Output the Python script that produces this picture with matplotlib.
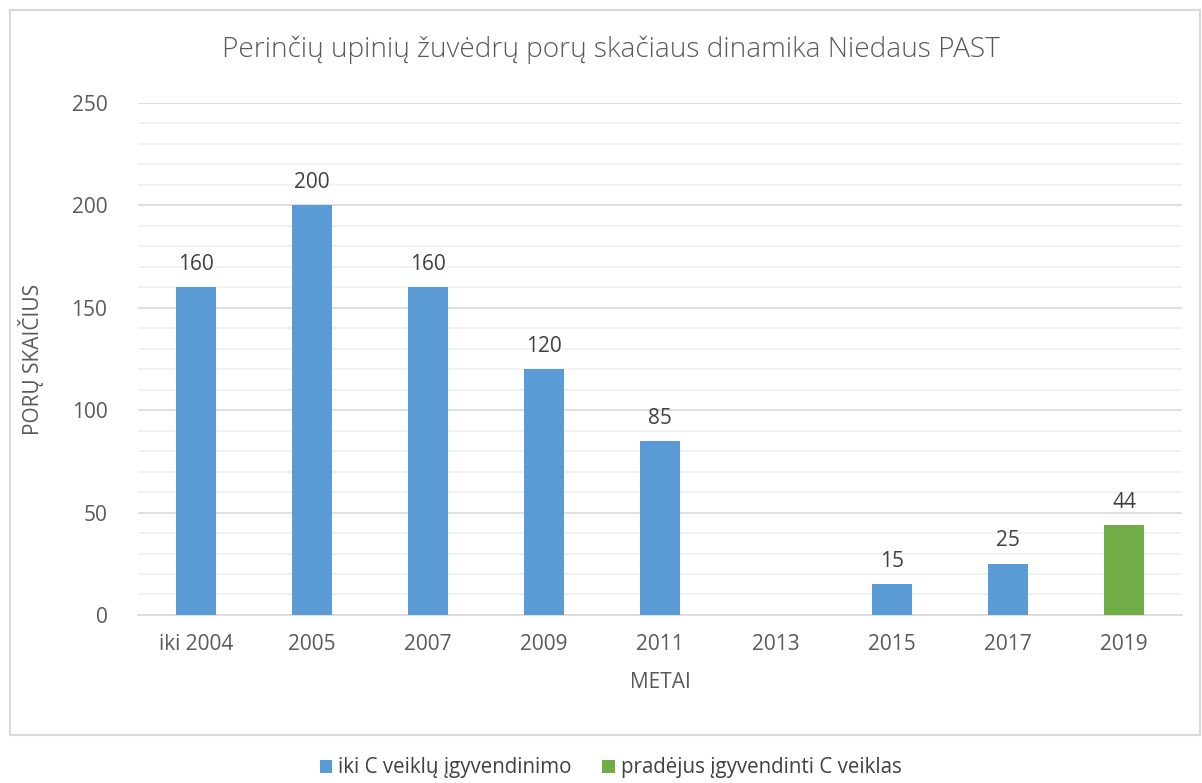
import numpy as np
from matplotlib import pyplot as plt
from matplotlib.patches import Rectangle

years = ["iki 2004", "2005", "2007", "2009", "2011", "2013", "2015", "2017", "2019"]
before = [160, 200, 160, 120, 85, np.nan, 15, 25, np.nan]
after = [np.nan, np.nan, np.nan, np.nan, np.nan, np.nan, np.nan, np.nan, 44]

plt.rcParams['font.family'] = ['Open Sans', 'DejaVu Sans']
txt = "#595959"

fig = plt.figure(figsize=(12.02, 7.83), dpi=100)
ax = fig.add_axes([0.1148, 0.2146, 0.8686, 0.6539])

# outer chart frame
fig.patches.append(Rectangle((10/1202, 1-735/783), 1190/1202, 725/783,
                             transform=fig.transFigure, fill=False,
                             edgecolor="#d9d9d9", linewidth=1.5))

x = np.arange(len(years))
b1 = ax.bar(x, before, width=0.34, color="#5b9bd5", label="iki C veiklų įgyvendinimo", zorder=3)
b2 = ax.bar(x, after, width=0.34, color="#70ad47", label="pradėjus įgyvendinti C veiklas", zorder=3)

for xi, v in zip(x, before):
    if not np.isnan(v):
        ax.text(xi, v + 6, str(int(v)), ha="center", va="bottom", fontsize=15, color="#404040")
for xi, v in zip(x, after):
    if not np.isnan(v):
        ax.text(xi, v + 6, str(int(v)), ha="center", va="bottom", fontsize=15, color="#404040")

ax.set_xlim(-0.5, len(years) - 0.5)
ax.set_ylim(0, 250)
ax.set_yticks(range(0, 251, 50))
ax.set_yticks(range(0, 251, 10), minor=True)
ax.grid(axis="y", which="major", color="#d9d9d9", linewidth=1.2, zorder=0)
ax.grid(axis="y", which="minor", color="#f0f0f0", linewidth=1.2, zorder=0)
ax.set_xticks(x)
ax.set_xticklabels(years)
ax.tick_params(axis="both", which="both", length=0, labelsize=15, colors=txt)
ax.tick_params(axis="x", pad=14)
ax.tick_params(axis="y", pad=22)
for s in ["top", "right", "left"]:
    ax.spines[s].set_visible(False)
ax.spines["bottom"].set_color("#d9d9d9")
ax.spines["bottom"].set_linewidth(1.2)

ax.set_xlabel("METAI", fontsize=15, color=txt, labelpad=12)
ax.set_ylabel("PORŲ SKAIČIUS", fontsize=15, color=txt, labelpad=20)
fig.text(0.508, 1 - 50/783, "Perinčių upinių žuvėdrų porų skačiaus dinamika Niedaus PAST",
         ha="center", va="center", fontsize=20.2, color=txt, fontweight="light")

fig.legend(handles=[b1, b2], loc="center", bbox_to_anchor=(0.508, 1 - 768/783), ncol=2,
           frameon=False, fontsize=14.8, handlelength=0.6, handleheight=0.6,
           handletextpad=0.3, columnspacing=1.5, labelcolor="#404040")

fig.savefig("out.png", dpi=100)
